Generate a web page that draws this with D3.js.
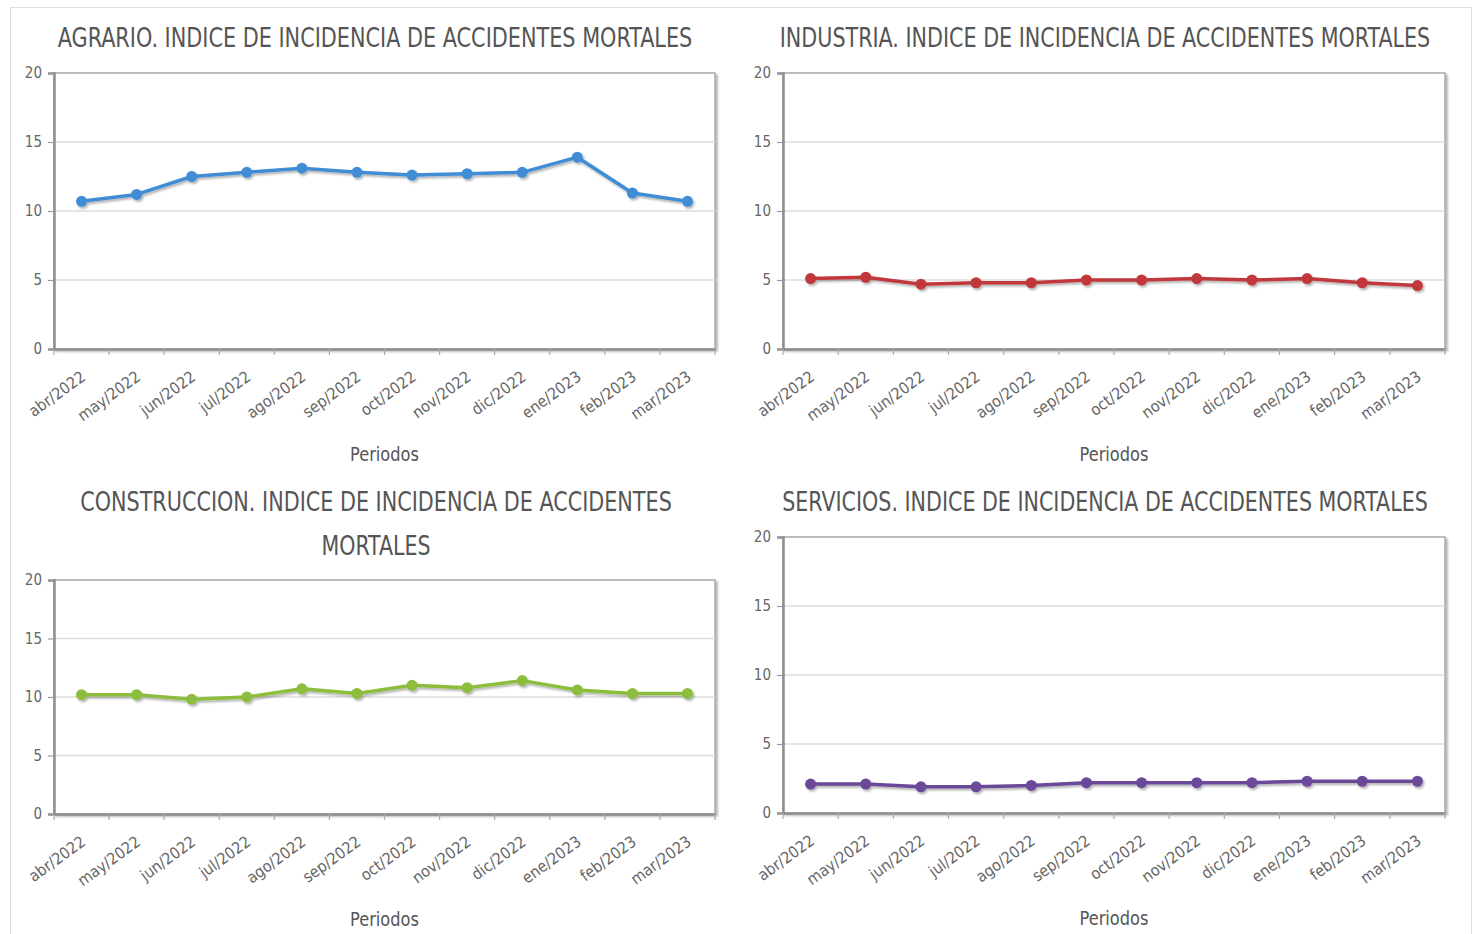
<!DOCTYPE html>
<html>
<head>
<meta charset="utf-8">
<script src="https://cdn.jsdelivr.net/npm/d3@7"></script>
<style>
  html, body { margin: 0; padding: 0; background: #fff; }
  svg { display: block; font-family: "DejaVu Sans Condensed", "DejaVu Sans", sans-serif; }
</style>
</head>
<body>
<svg id="chart" width="1474" height="934"></svg>
<script>
// --- data ---
const months = ['abr/2022', 'may/2022', 'jun/2022', 'jul/2022', 'ago/2022', 'sep/2022',
                'oct/2022', 'nov/2022', 'dic/2022', 'ene/2023', 'feb/2023', 'mar/2023'];
const agrario      = [10.7, 11.2, 12.5, 12.8, 13.1, 12.8, 12.6, 12.7, 12.8, 13.9, 11.3, 10.7];
const industria    = [5.1, 5.2, 4.7, 4.8, 4.8, 5.0, 5.0, 5.1, 5.0, 5.1, 4.8, 4.6];
const construccion = [10.2, 10.2, 9.8, 10.0, 10.7, 10.3, 11.0, 10.8, 11.4, 10.6, 10.3, 10.3];
const servicios    = [2.1, 2.1, 1.9, 1.9, 2.0, 2.2, 2.2, 2.2, 2.2, 2.3, 2.3, 2.3];
const yTicks = [0, 5, 10, 15, 20];
const xTitle = 'Periodos';

// --- layout for each panel ---
const panels = [
  { title: ['AGRARIO. INDICE DE INCIDENCIA DE ACCIDENTES MORTALES'], titleW: [635],
    values: agrario, color: '#3f8dd6', cx: 375, titleY: 47,
    x0: 54, x1: 715, y0: 73, y1: 349 },
  { title: ['INDUSTRIA. INDICE DE INCIDENCIA DE ACCIDENTES MORTALES'], titleW: [651],
    values: industria, color: '#c0393b', cx: 1105, titleY: 47,
    x0: 783, x1: 1445, y0: 73, y1: 349 },
  { title: ['CONSTRUCCION. INDICE DE INCIDENCIA DE ACCIDENTES', 'MORTALES'], titleW: [592, 109],
    values: construccion, color: '#8cbd3e', cx: 376, titleY: 511,
    x0: 54, x1: 715, y0: 580, y1: 814 },
  { title: ['SERVICIOS. INDICE DE INCIDENCIA DE ACCIDENTES MORTALES'], titleW: [646],
    values: servicios, color: '#6a4899', cx: 1105, titleY: 511,
    x0: 783, x1: 1445, y0: 537, y1: 813 }
];

const svg = d3.select('#chart');

const defs = svg.append('defs');
defs.append('filter').attr('id', 'lineShadow')
  .attr('x', '-5%').attr('y', '-50%').attr('width', '110%').attr('height', '200%')
  .append('feDropShadow')
  .attr('dx', 1.5).attr('dy', 2).attr('stdDeviation', 1.3)
  .attr('flood-color', '#000').attr('flood-opacity', 0.3);
defs.append('filter').attr('id', 'frameShadow')
  .attr('x', '-5%').attr('y', '-5%').attr('width', '110%').attr('height', '110%')
  .append('feDropShadow')
  .attr('dx', 2).attr('dy', 2).attr('stdDeviation', 1.2)
  .attr('flood-color', '#000').attr('flood-opacity', 0.3);

// outer card border
svg.append('rect')
  .attr('x', 10.5).attr('y', 7.5).attr('width', 1461).attr('height', 960)
  .attr('fill', 'none').attr('stroke', '#dedede');

// squeeze a text horizontally to a given width (the original font is condensed)
function fitWidth(sel, cx, y, w) {
  const natural = sel.node().getComputedTextLength();
  sel.attr('x', 0).attr('y', 0)
    .attr('transform', `translate(${cx},${y}) scale(${w / natural},1)`);
}

panels.forEach(p => {
  const g = svg.append('g');

  const x = d3.scaleBand().domain(months).range([p.x0, p.x1]);
  const y = d3.scaleLinear().domain([0, 20]).range([p.y1, p.y0]);

  // title
  p.title.forEach((t, i) => {
    const tt = g.append('text')
      .attr('text-anchor', 'middle')
      .attr('font-size', 26)
      .attr('fill', '#555')
      .text(t);
    fitWidth(tt, p.cx, p.titleY + i * 44, p.titleW[i]);
  });

  // frame with shadow
  g.append('rect')
    .attr('x', p.x0).attr('y', p.y0)
    .attr('width', p.x1 - p.x0).attr('height', p.y1 - p.y0)
    .attr('fill', '#fff').attr('stroke', '#a9a9a9').attr('stroke-width', 1.5)
    .attr('filter', 'url(#frameShadow)');

  // gridlines
  g.append('g')
    .selectAll('line')
    .data(yTicks.filter(v => v > 0 && v < 20))
    .join('line')
    .attr('x1', p.x0).attr('x2', p.x1)
    .attr('y1', d => y(d)).attr('y2', d => y(d))
    .attr('stroke', '#dcdcdc').attr('stroke-width', 1.5);

  // y axis
  const yAxis = g.append('g')
    .attr('transform', `translate(${p.x0},0)`)
    .call(d3.axisLeft(y).tickValues(yTicks).tickSize(6).tickPadding(6));
  yAxis.select('.domain').attr('stroke', '#8f8f8f').attr('stroke-width', 2.5);
  yAxis.selectAll('.tick line').attr('stroke', '#999').attr('stroke-width', 1.2);
  yAxis.selectAll('.tick text')
    .attr('font-size', 15).attr('fill', '#666')
    .attr('font-family', '"DejaVu Sans Condensed", sans-serif');

  // x axis
  const xAxis = g.append('g')
    .attr('transform', `translate(0,${p.y1})`)
    .call(d3.axisBottom(x).tickSize(0).tickPadding(0));
  xAxis.select('.domain').attr('stroke', '#8f8f8f').attr('stroke-width', 2.5);
  xAxis.selectAll('.tick text')
    .attr('font-size', 16).attr('fill', '#666')
    .attr('font-family', '"DejaVu Sans Condensed", sans-serif')
    .attr('text-anchor', 'end')
    .attr('dy', 0)
    .attr('transform', 'translate(5,30) rotate(-36)');

  // tick marks at the boundaries between periods
  const bounds = months.map(m => x(m)).concat([p.x1]);
  g.append('g')
    .selectAll('line')
    .data(bounds)
    .join('line')
    .attr('x1', d => d).attr('x2', d => d)
    .attr('y1', p.y1).attr('y2', p.y1 + 6)
    .attr('stroke', '#aaa').attr('stroke-width', 1.2);

  // x axis title
  const xt = g.append('text')
    .attr('text-anchor', 'middle')
    .attr('font-size', 20)
    .attr('fill', '#555')
    .text(xTitle);
  fitWidth(xt, (p.x0 + p.x1) / 2, p.y1 + 112, 69);

  // series
  const cxOf = i => x(months[i]) + x.bandwidth() / 2;
  const line = d3.line().x((d, i) => cxOf(i)).y(d => y(d));
  const s = g.append('g').attr('filter', 'url(#lineShadow)');
  s.append('path')
    .datum(p.values)
    .attr('d', line)
    .attr('fill', 'none')
    .attr('stroke', p.color)
    .attr('stroke-width', 3.5)
    .attr('stroke-linejoin', 'round');
  s.selectAll('circle')
    .data(p.values)
    .join('circle')
    .attr('cx', (d, i) => cxOf(i))
    .attr('cy', d => y(d))
    .attr('r', 5.5)
    .attr('fill', p.color);
});
</script>
</body>
</html>
